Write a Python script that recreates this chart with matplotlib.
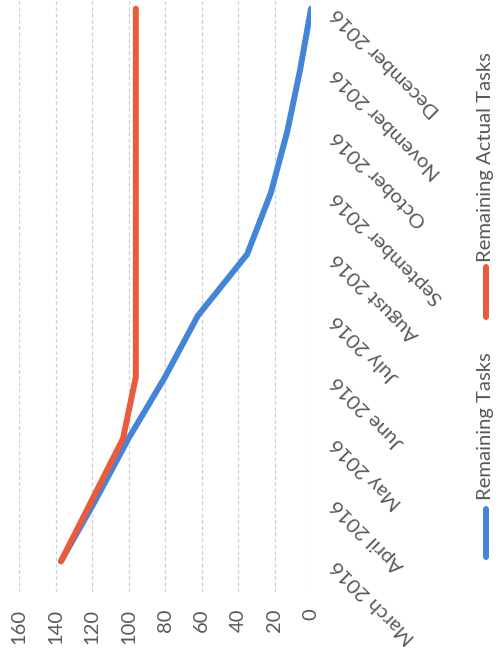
import matplotlib
matplotlib.use("Agg")
import matplotlib.pyplot as plt
from matplotlib.lines import Line2D
from matplotlib.transforms import offset_copy

months = ["March 2016", "April 2016", "May 2016", "June 2016", "July 2016",
          "August 2016", "September 2016", "October 2016", "November 2016",
          "December 2016"]
remaining_tasks = [137, 118, 100, 80, 62, 35, 22, 13, 6, 0]
remaining_actual = [137, 120, 103, 96, 96, 96, 96, 96, 96, 96]
value_ticks = [160, 140, 120, 100, 80, 60, 40, 20, 0]

BLUE = "#4386d8"
RED = "#e95b3b"
TEXT = "#595959"
FONT = ["Lato", "DejaVu Sans"]

W, H = 498, 649
fig = plt.figure(figsize=(W / 100, H / 100), dpi=100)
fig.patch.set_facecolor("white")

# sideways burndown: values run horizontally, months run upward
left, right, bottom, top = 19, 311, 592, -22
ax = fig.add_axes([left / W, (H - bottom) / H, (right - left) / W, (bottom - top) / H])
ax.set_xlim(160, 0)
ax.set_ylim(-0.5, len(months) - 0.5)

pos = list(range(len(months)))
ax.plot(remaining_tasks, pos, color=BLUE, lw=4.3, solid_capstyle="round",
        solid_joinstyle="round", zorder=3)
ax.plot(remaining_actual, pos, color=RED, lw=4.3, solid_capstyle="round",
        solid_joinstyle="round", zorder=4)

ax.set_xticks(value_ticks)
ax.set_xticklabels([str(v) for v in value_ticks], rotation=90, color=TEXT,
                   fontsize=14.5, family=FONT)
ax.tick_params(axis="x", length=0, pad=12)
ax.xaxis.grid(True, color="#c6d1dc", lw=0.9, ls=(0, (3, 2)))
ax.yaxis.grid(False)

# month labels, turned so they read down the right-hand side
ax.set_yticks(pos)
ax.set_yticklabels([])
ax.tick_params(axis="y", length=0)
label_tr = offset_copy(ax.get_yaxis_transform(), fig=fig, x=23, y=-2, units="dots")
for p, m in zip(pos, months):
    ax.text(1.0, p, m, transform=label_tr, rotation=135, rotation_mode="anchor",
            ha="right", va="center", color=TEXT, fontsize=14.7, family=FONT,
            clip_on=False)

for s in ax.spines.values():
    s.set_visible(False)
ax.set_facecolor("white")

# legend drawn sideways along the right edge
def legend_entry(color, y0, y1, label, ty):
    fig.add_artist(Line2D([486 / W, 486 / W], [(H - y0) / H, (H - y1) / H],
                          color=color, lw=4.3, solid_capstyle="round"))
    fig.text(485 / W, (H - ty) / H, label, rotation=90, ha="center", va="bottom",
             color=TEXT, fontsize=14.6, family=FONT)

legend_entry(BLUE, 557, 509, "Remaining Tasks", 500)
legend_entry(RED, 317, 267, "Remaining Actual Tasks", 262)

fig.savefig("out.png", dpi=100, facecolor="white")
